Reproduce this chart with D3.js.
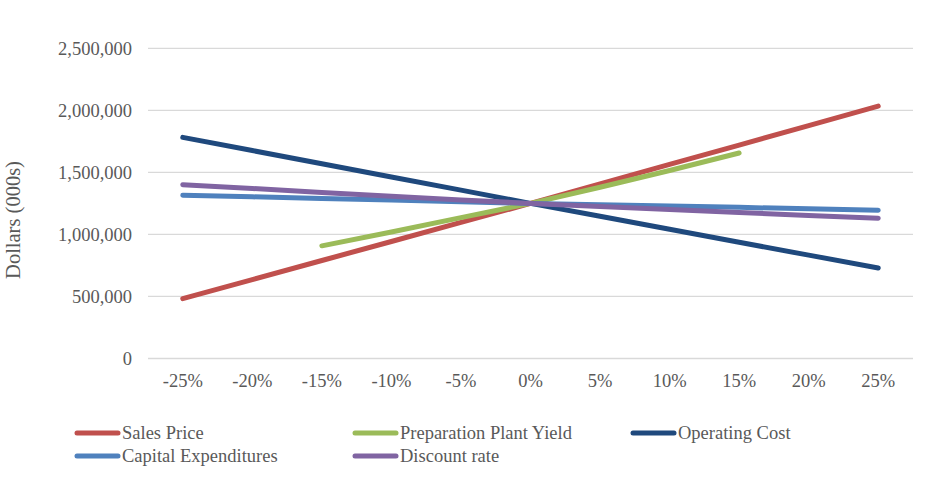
<!DOCTYPE html>
<html><head><meta charset="utf-8">
<script src="https://cdn.jsdelivr.net/npm/d3@7"></script>
<style>body{margin:0;background:#fff;} text{font-family:"Liberation Serif","Times New Roman",serif;fill:#595959;}</style>
</head><body><svg id="c" width="929" height="489"></svg>
<script>
const categories = ["-25%","-20%","-15%","-10%","-5%","0%","5%","10%","15%","20%","25%"];
const yTicks = [0, 500000, 1000000, 1500000, 2000000, 2500000];
const salesPrice = [482000, 636000, 790000, 943000, 1097000, 1250000, 1407000, 1564000, 1720000, 1877000, 2034000];
const prepPlantYield = [null, null, 908000, 1020000, 1135000, 1250000, 1380000, 1515000, 1656000, null, null];
const operatingCost = [1782000, 1676000, 1570000, 1463000, 1357000, 1250000, 1146000, 1042000, 937000, 833000, 729000];
const capitalExpenditures = [1316000, 1303000, 1290000, 1277000, 1264000, 1250000, 1240000, 1229000, 1218000, 1206000, 1195000];
const discountRate = [1401000, 1370000, 1338000, 1308000, 1278000, 1250000, 1225000, 1200000, 1176000, 1153000, 1131000];
const seriesNames = ["Sales Price","Preparation Plant Yield","Operating Cost","Capital Expenditures","Discount rate"];
const seriesValues = [salesPrice, prepPlantYield, operatingCost, capitalExpenditures, discountRate];
const colors = ["#C0504D","#9BBB59","#1F497D","#4F81BD","#8064A2"];

const svg = d3.select("#c");
const mLeft = 148, mRight = 913, mTop = 48.3, mBottom = 358.5;
const x = d3.scaleBand().domain(categories).range([mLeft, mRight]);
const y = d3.scaleLinear().domain([0, 2500000]).range([mBottom, mTop]);

// gridlines
svg.append("g").selectAll("line").data(yTicks).join("line")
  .attr("x1", mLeft).attr("x2", mRight)
  .attr("y1", d => y(d)).attr("y2", d => y(d))
  .attr("stroke", "#D9D9D9").attr("stroke-width", 1.3);

// y axis labels
const yAxis = d3.axisLeft(y).tickValues(yTicks).tickFormat(d3.format(",")).tickSize(0).tickPadding(16);
const yg = svg.append("g").attr("transform", `translate(${mLeft},0)`).call(yAxis);
yg.select(".domain").remove();
yg.selectAll("text").attr("font-size", 18.5).attr("fill", "#595959").style("font-family", "'Liberation Serif', serif");

// x axis labels
const xAxis = d3.axisBottom(x).tickSize(0).tickPadding(15);
const xg = svg.append("g").attr("transform", `translate(0,${mBottom})`).call(xAxis);
xg.select(".domain").remove();
xg.selectAll("text").attr("font-size", 18.5).attr("fill", "#595959").style("font-family", "'Liberation Serif', serif");

// y title
svg.append("text").attr("transform", "translate(20,220) rotate(-90)")
  .attr("text-anchor", "middle").attr("font-size", 20.5).text("Dollars (000s)");

// lines
const line = d3.line()
  .defined(d => d.v !== null)
  .x(d => x(d.c) + x.bandwidth() / 2)
  .y(d => y(d.v));
seriesValues.forEach((vals, i) => {
  const data = vals.map((v, j) => ({c: categories[j], v}));
  svg.append("path").datum(data).attr("d", line)
    .attr("fill", "none").attr("stroke", colors[i]).attr("stroke-width", 5)
    .attr("stroke-linecap", "round").attr("stroke-linejoin", "round");
});

// legend
const legendPos = [[77,433],[355,433],[633,433],[77,456],[355,456]];
seriesNames.forEach((name, i) => {
  const [lx, ly] = legendPos[i];
  const g = svg.append("g");
  g.append("line").attr("x1", lx).attr("x2", lx + 41).attr("y1", ly).attr("y2", ly)
    .attr("stroke", colors[i]).attr("stroke-width", 5).attr("stroke-linecap", "round");
  g.append("text").attr("x", lx + 45).attr("y", ly + 6).attr("font-size", 18.5).text(name);
});
</script></body></html>
